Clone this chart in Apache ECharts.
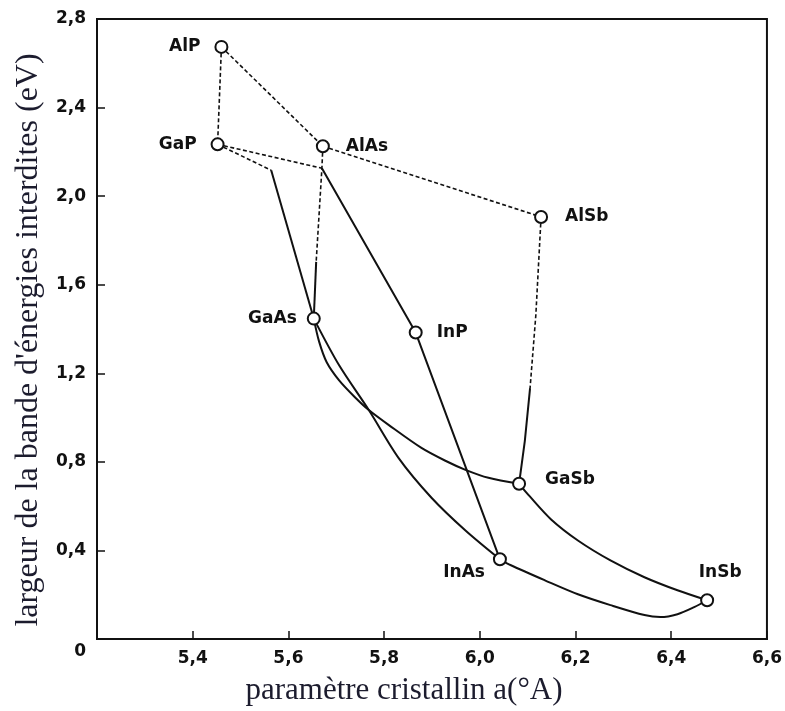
<!DOCTYPE html>
<html>
<head>
<meta charset="utf-8">
<script src="https://cdn.jsdelivr.net/npm/echarts@6/dist/echarts.min.js"></script>
<style>
  html, body { margin: 0; padding: 0; background: #fff; }
  #chart { width: 785px; height: 711px; }
</style>
</head>
<body>
<div id="chart"></div>
<script>
// binary compounds: lattice constant (A) and band gap (eV)
const compounds = ['AlP', 'GaP', 'AlAs', 'AlSb', 'GaAs', 'InP', 'GaSb', 'InAs', 'InSb']
const latticeA = [5.460, 5.452, 5.672, 6.128, 5.653, 5.866, 6.082, 6.042, 6.475]
const gapEV = [2.674, 2.234, 2.225, 1.906, 1.447, 1.384, 0.701, 0.360, 0.175]

const xTicks = [5.4, 5.6, 5.8, 6.0, 6.2, 6.4, 6.6]
const yTicks = [0, 0.4, 0.8, 1.2, 1.6, 2.0, 2.4, 2.8]

// indirect-gap (dashed) branches
const alpGap = [[5.460, 2.674], [5.452, 2.234]]
const alpAlas = [[5.460, 2.674], [5.672, 2.225]]
const alasAlsb = [[5.672, 2.225], [6.128, 1.906]]
const gapToCross = [[5.452, 2.234], [5.670, 2.126]]
const gapToKnee = [[5.452, 2.234], [5.564, 2.117]]
const alasGaasDash = [[5.672, 2.225], [5.670, 2.126], [5.658, 1.703]]
const alsbGasbDash = [[6.128, 1.906], [6.117, 1.461], [6.105, 1.133]]

// direct-gap (solid) branches
const kneeGaas = [[5.564, 2.117], [5.653, 1.447]]
const alasGaasSolid = [[5.658, 1.703], [5.653, 1.447]]
const crossInpInas = [[5.670, 2.126], [5.866, 1.384], [6.042, 0.360]]
const alsbGasbSolid = [[6.105, 1.133], [6.094, 0.894], [6.082, 0.701]]
const gaasGasb = [[5.653, 1.447], [5.664, 1.344], [5.680, 1.250], [5.706, 1.168], [5.739, 1.092],
  [5.768, 1.034], [5.810, 0.966], [5.878, 0.863], [5.928, 0.805], [5.970, 0.764], [6.018, 0.728], [6.082, 0.701]]
const gaasInas = [[5.653, 1.447], [5.706, 1.236], [5.768, 1.034], [5.830, 0.818], [5.899, 0.638],
  [5.970, 0.490], [6.042, 0.360]]
const inasInsb = [[6.042, 0.360], [6.065, 0.333], [6.136, 0.265], [6.205, 0.202], [6.273, 0.153],
  [6.344, 0.108], [6.377, 0.099], [6.413, 0.112], [6.448, 0.144], [6.475, 0.175]]
const gasbInsb = [[6.082, 0.701], [6.104, 0.645], [6.149, 0.540], [6.205, 0.445], [6.273, 0.355],
  [6.344, 0.279], [6.413, 0.220], [6.475, 0.175]]

const ink = '#111'
const labelPlace = {
  AlP: { position: 'left', distance: 14 },
  GaP: { position: 'left', distance: 14 },
  AlAs: { position: 'right', distance: 16 },
  AlSb: { position: 'right', distance: 17 },
  GaAs: { position: 'left', distance: 10 },
  InP: { position: 'right', distance: 14 },
  GaSb: { position: 'right', distance: 19, offset: [0, -4] },
  InAs: { position: 'left', distance: 8, offset: [0, 13] },
  InSb: { position: 'top', distance: 12, offset: [13, 0] }
}

const fmt = v => (Math.abs(v) < 1e-9 ? '0' : v.toFixed(1).replace('.', ','))

const dashed = data => ({
  type: 'line', data, symbol: 'none', silent: true, z: 2,
  lineStyle: { color: ink, width: 1.6, type: [4, 2.5] }
})
const solid = (data, smooth) => ({
  type: 'line', data, symbol: 'none', silent: true, z: 2, smooth: smooth || false,
  lineStyle: { color: ink, width: 2 }
})

const chart = echarts.init(document.getElementById('chart'))
chart.setOption({
  animation: false,
  backgroundColor: '#fff',
  grid: { left: 97, right: 15, top: 19, bottom: 69, show: true, borderColor: ink, borderWidth: 2 },
  xAxis: {
    type: 'value', min: 5.2, max: 6.6, interval: 0.2,
    axisLine: { lineStyle: { color: ink, width: 2 } },
    axisTick: { inside: true, length: 8, lineStyle: { color: ink, width: 1.5 } },
    splitLine: { show: false },
    axisLabel: {
      showMinLabel: false, margin: 11, color: ink,
      fontFamily: 'DejaVu Sans', fontWeight: 'bold', fontSize: 17,
      formatter: v => (xTicks.some(t => Math.abs(t - v) < 1e-6) ? fmt(v) : '')
    },
    name: 'paramètre cristallin a(°A)',
    nameLocation: 'middle', nameGap: 36,
    nameTextStyle: { fontFamily: 'Liberation Serif', fontSize: 31, color: '#1c1c2e', padding: [0, 56, 0, 0] }
  },
  yAxis: {
    type: 'value', min: 0, max: 2.8, interval: 0.4,
    axisLine: { lineStyle: { color: ink, width: 2 } },
    axisTick: { inside: true, length: 8, lineStyle: { color: ink, width: 1.5 } },
    splitLine: { show: false },
    axisLabel: {
      margin: 11, color: ink,
      fontFamily: 'DejaVu Sans', fontWeight: 'bold', fontSize: 17,
      formatter: v => {
        if (!yTicks.some(t => Math.abs(t - v) < 1e-6)) return ''
        return Math.abs(v) < 1e-9 ? '{z|0}' : fmt(v)
      },
      rich: { z: { fontFamily: 'DejaVu Sans', fontWeight: 'bold', fontSize: 17, color: ink, padding: [26, 0, 0, 0] } }
    },
    name: 'largeur de la bande d\'énergies interdites (eV)',
    nameLocation: 'middle', nameGap: 52,
    nameTextStyle: { fontFamily: 'Liberation Serif', fontSize: 32, color: '#1c1c2e', padding: [0, 22, 0, 0] }
  },
  series: [
    dashed(alpGap), dashed(alpAlas), dashed(alasAlsb), dashed(gapToCross), dashed(gapToKnee),
    dashed(alasGaasDash), dashed(alsbGasbDash),
    solid(kneeGaas), solid(alasGaasSolid), solid(crossInpInas), solid(alsbGasbSolid),
    solid(gaasGasb, 0.3), solid(gaasInas, 0.3), solid(inasInsb, 0.3), solid(gasbInsb, 0.3),
    {
      type: 'scatter', z: 5,
      symbol: 'circle', symbolSize: 12,
      itemStyle: { color: '#fff', borderColor: ink, borderWidth: 2, opacity: 1 },
      label: {
        show: true, color: ink, fontFamily: 'DejaVu Sans', fontWeight: 'bold', fontSize: 17,
        formatter: p => p.name
      },
      emphasis: { disabled: true },
      data: compounds.map((c, i) => ({
        name: c,
        value: [latticeA[i], gapEV[i]],
        label: Object.assign({ color: ink }, labelPlace[c])
      }))
    }
  ]
})
</script>
</body>
</html>
